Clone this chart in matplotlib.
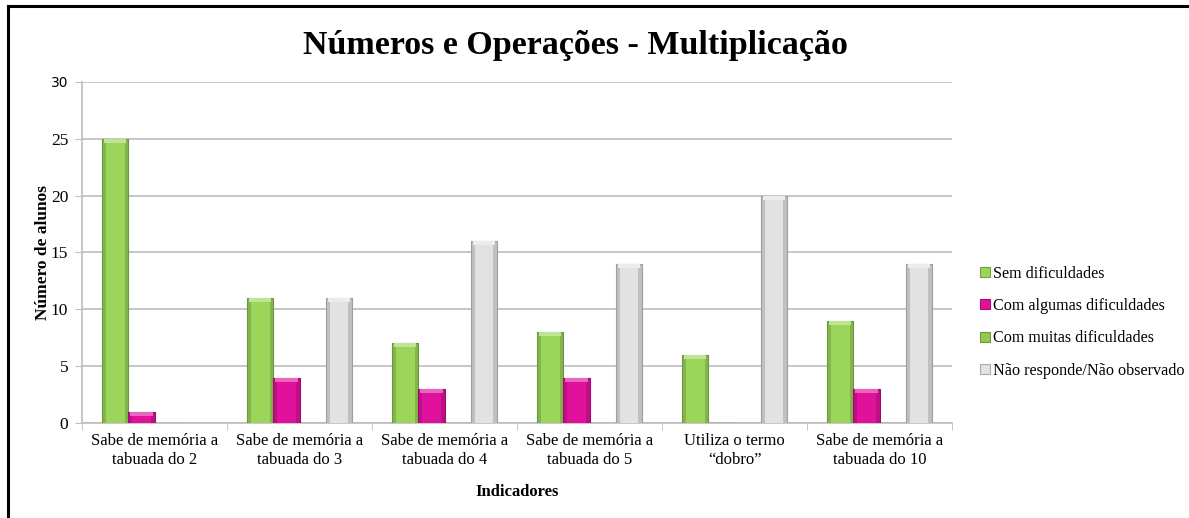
import numpy as np
import matplotlib.pyplot as plt
from matplotlib.lines import Line2D
from matplotlib.patches import Patch
import matplotlib.colors as mcolors

categorias = ['Sabe de memória a\ntabuada do 2', 'Sabe de memória a\ntabuada do 3',
              'Sabe de memória a\ntabuada do 4', 'Sabe de memória a\ntabuada do 5',
              'Utiliza o termo\n\u201cdobro\u201d', 'Sabe de memória a\ntabuada do 10']
sem_dificuldades = [25, 11, 7, 8, 6, 9]
algumas_dificuldades = [1, 4, 3, 4, 0, 3]
muitas_dificuldades = [0, 0, 0, 0, 0, 0]
nao_responde = [0, 11, 16, 14, 20, 14]

series = [
    ('Sem dificuldades', sem_dificuldades, '#9BD55A'),
    ('Com algumas dificuldades', algumas_dificuldades, '#E0129C'),
    ('Com muitas dificuldades', muitas_dificuldades, '#94C94E'),
    ('Não responde/Não observado', nao_responde, '#E2E2E2'),
]

serif = 'Liberation Serif'
plt.rcParams['font.family'] = serif

fig = plt.figure(figsize=(11.89, 5.18), dpi=100)
ax = fig.add_axes([0.069, 0.1834, 0.7317, 0.6583])

x = np.arange(len(categorias))
w = 0.18


def shade(c, f):
    r, g, b = mcolors.to_rgb(c)
    if f < 1:
        return (r * f, g * f, b * f)
    return (r + (1 - r) * (f - 1), g + (1 - g) * (f - 1), b + (1 - b) * (f - 1))


for i, (nome, vals, cor) in enumerate(series):
    pos = x + (i - 1.5) * w
    vals = np.array(vals, dtype=float)
    # outer bar (darker bevel edges)
    ax.bar(pos, vals, width=w, color=shade(cor, 0.85), edgecolor=shade(cor, 0.7),
           linewidth=0.8, zorder=3)
    # inner flat face
    inner = np.where(vals > 0, np.maximum(vals - 0.35, 0), 0)
    ax.bar(pos, inner, width=w * 0.7, color=cor, linewidth=0, zorder=4)
    # top highlight
    top = np.where(vals > 0.5, 0.35, 0)
    ax.bar(pos, top, bottom=inner, width=w * 0.85, color=shade(cor, 1.35),
           linewidth=0, zorder=4)

ax.set_xlim(-0.5, len(categorias) - 0.5)
ax.set_ylim(0, 30)
ax.set_yticks(range(0, 31, 5))
ax.yaxis.grid(True, color='#BDBDBD', linewidth=1.2, zorder=0)
ax.set_axisbelow(True)

for s in ['top', 'right']:
    ax.spines[s].set_visible(False)
ax.spines['left'].set_color('#BDBDBD')
ax.spines['bottom'].set_color('#BDBDBD')
ax.spines['left'].set_linewidth(1.2)
ax.spines['bottom'].set_linewidth(1.2)

ax.set_xticks(x)
ax.set_xticklabels(categorias, fontsize=12, linespacing=1.25)
ax.tick_params(axis='x', length=0, pad=7)
ax.set_xticks(np.arange(-0.5, len(categorias), 1), minor=True)
ax.tick_params(axis='x', which='minor', length=5, color='#BDBDBD')
ax.tick_params(axis='y', length=5, color='#BDBDBD', labelsize=12.5, pad=5)
for lbl in ax.get_yticklabels():
    if lbl.get_text() == '30':
        lbl.set_family('DejaVu Sans')
        lbl.set_fontsize(10)

ax.set_xlabel('Indicadores', fontsize=12, fontweight='bold', labelpad=12)
ax.set_ylabel('Número de alunos', fontsize=12.5, fontweight='bold', labelpad=0)

fig.text(0.484, 0.912, 'Números e Operações - Multiplicação', ha='center', va='center',
         fontsize=24.5, fontweight='bold')

handles = [Patch(facecolor=c, edgecolor=shade(c, 0.75), linewidth=0.8) for _, _, c in series]
leg = fig.legend(handles, [n for n, _, _ in series], loc='center left',
                 bbox_to_anchor=(0.812, 0.378), frameon=False, fontsize=11.6,
                 handlelength=0.6, handleheight=0.6, handletextpad=0.2, labelspacing=1.02)

# frame lines (top and left only)
fig.add_artist(Line2D([0.0068, 1.0], [0.988, 0.988], color='black', linewidth=2.2))
fig.add_artist(Line2D([0.0068, 0.0068], [0.0, 0.988], color='black', linewidth=2.2))

fig.savefig('out.png', dpi=100)
